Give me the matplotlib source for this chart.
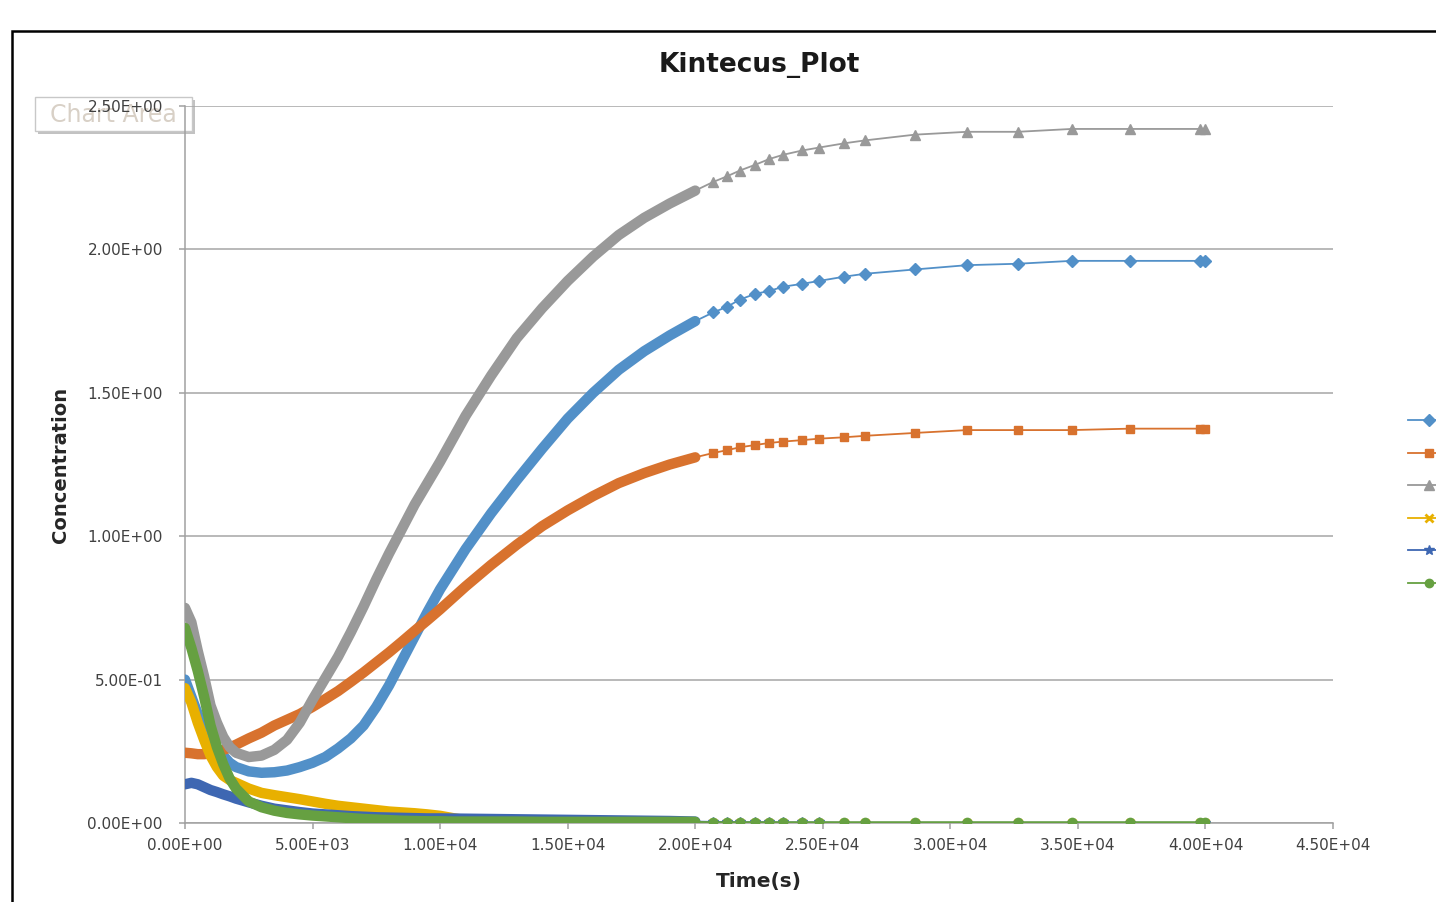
import matplotlib
matplotlib.use('Agg')
import matplotlib.pyplot as plt
from matplotlib.patches import Rectangle
from matplotlib.ticker import FuncFormatter, MultipleLocator

# time points (s): dense part where markers merge into a band, then the sparse tail
time_dense = [0, 250, 500, 750, 1000, 1250, 1500, 1750, 2000, 2500, 3000, 3500, 4000, 4500, 5000,
              5500, 6000, 6500, 7000, 7500, 8000, 8500, 9000, 9500, 10000, 10500, 11000, 12000,
              13000, 14000, 15000, 16000, 17000, 18000, 19000, 20000]
time_tail = [20700, 21250, 21750, 22350, 22900, 23450, 24200, 24850, 25850, 26650, 28600, 30650,
             32650, 34750, 37050, 39800, 40000]

s1_dense = [0.50, 0.44, 0.38, 0.33, 0.29, 0.26, 0.235, 0.21, 0.195, 0.18, 0.175, 0.177, 0.183, 0.195,
            0.21, 0.23, 0.26, 0.295, 0.34, 0.405, 0.48, 0.565, 0.65, 0.735, 0.815, 0.885, 0.955,
            1.08, 1.195, 1.305, 1.41, 1.50, 1.58, 1.645, 1.70, 1.75]
s1_tail = [1.78, 1.80, 1.825, 1.845, 1.855, 1.87, 1.88, 1.89, 1.905, 1.915, 1.93, 1.945, 1.95, 1.96,
           1.96, 1.96, 1.96]

s2_dense = [0.245, 0.243, 0.24, 0.24, 0.243, 0.247, 0.255, 0.263, 0.273, 0.295, 0.315, 0.34, 0.36,
            0.38, 0.405, 0.432, 0.46, 0.492, 0.525, 0.56, 0.595, 0.632, 0.67, 0.707, 0.745, 0.785,
            0.825, 0.90, 0.97, 1.035, 1.09, 1.14, 1.185, 1.22, 1.25, 1.275]
s2_tail = [1.29, 1.30, 1.31, 1.318, 1.325, 1.33, 1.335, 1.34, 1.345, 1.35, 1.36, 1.37, 1.37, 1.37,
           1.375, 1.375, 1.375]

s3_dense = [0.75, 0.70, 0.60, 0.51, 0.41, 0.35, 0.30, 0.265, 0.245, 0.23, 0.235, 0.255, 0.29, 0.35,
            0.43, 0.505, 0.58, 0.665, 0.755, 0.85, 0.94, 1.025, 1.11, 1.185, 1.26, 1.34, 1.42, 1.56,
            1.69, 1.795, 1.89, 1.975, 2.05, 2.11, 2.16, 2.205]
s3_tail = [2.235, 2.255, 2.275, 2.295, 2.315, 2.33, 2.345, 2.355, 2.37, 2.38, 2.40, 2.41, 2.41, 2.42,
           2.42, 2.42, 2.42]

s4_dense = [0.47, 0.42, 0.35, 0.29, 0.235, 0.195, 0.165, 0.15, 0.14, 0.12, 0.105, 0.097, 0.09, 0.083,
            0.075, 0.067, 0.06, 0.055, 0.05, 0.045, 0.04, 0.037, 0.034, 0.03, 0.025, 0.017, 0.01,
            0.002, 0.001, 0.001, 0.001, 0.001, 0.001, 0.001, 0.001, 0.001]
s4_tail = [0.001] * 17

s5_dense = [0.135, 0.14, 0.135, 0.125, 0.115, 0.108, 0.10, 0.093, 0.085, 0.072, 0.06, 0.05, 0.044,
            0.038, 0.033, 0.03, 0.027, 0.024, 0.022, 0.02, 0.019, 0.018, 0.017, 0.016, 0.016, 0.0155,
            0.015, 0.014, 0.013, 0.012, 0.011, 0.01, 0.009, 0.008, 0.007, 0.005]
s5_tail = [0.004, 0.004, 0.003, 0.003, 0.003, 0.002, 0.002, 0.002, 0.001, 0.001, 0.001, 0.001,
           0.001, 0.001, 0.001, 0.001, 0.001]

s6_dense = [0.68, 0.61, 0.53, 0.44, 0.34, 0.265, 0.205, 0.155, 0.12, 0.075, 0.055, 0.043, 0.035,
            0.03, 0.026, 0.023, 0.02, 0.017, 0.014, 0.012, 0.01, 0.008, 0.007, 0.006, 0.006, 0.005,
            0.005, 0.005, 0.005, 0.004, 0.004, 0.004, 0.004, 0.004, 0.004, 0.004]
s6_tail = [0.003] * 17

series_names = ['Species 1', 'Species 2', 'Species 3', 'Species 4', 'Species 5', 'Species 6']
colors = ['#5290C8', '#D8722E', '#999999', '#E8B000', '#3E67B2', '#66A041']
markers = ['D', 's', '^', 'x', '*', 'o']
dense = [s1_dense, s2_dense, s3_dense, s4_dense, s5_dense, s6_dense]
tail = [s1_tail, s2_tail, s3_tail, s4_tail, s5_tail, s6_tail]

fig = plt.figure(figsize=(14.36, 9.02), dpi=100)
W, H = 1436, 902

# outer chart border (cut off at right and bottom)
fig.patches.append(Rectangle((12 / W, -0.1), 1.2, 1 - 31 / H + 0.1, transform=fig.transFigure,
                             fill=False, ec='black', lw=1.8, zorder=0))

# "Chart Area" tooltip
fig.patches.append(Rectangle((38 / W, 1 - 134 / H), 157 / W, 34 / H, transform=fig.transFigure,
                             fc='#9A9A9A', ec='none', alpha=0.6, zorder=0))
fig.patches.append(Rectangle((35 / W, 1 - 131 / H), 157 / W, 34 / H, transform=fig.transFigure,
                             fc='white', ec='#C8C8C8', lw=1.0, zorder=0.1))
fig.text(113 / W, 1 - 115 / H, 'Chart Area', ha='center', va='center', fontsize=17,
         color='#D8D0C6', zorder=0.2)

ax = fig.add_axes([185 / W, 1 - 823 / H, 1148 / W, 717 / H])
ax.set_zorder(1)
ax.patch.set_alpha(0)

for i in range(6):
    t_all = time_dense + time_tail
    v_all = dense[i] + tail[i]
    n = len(time_dense)
    ax.plot(time_dense, dense[i], color=colors[i], lw=7.5, solid_capstyle='round',
            solid_joinstyle='round', zorder=3 + i)
    ms = 7 if markers[i] in ('^', '*') else 6
    mew = 2 if markers[i] == 'x' else 1
    ax.plot(t_all[n - 1:], v_all[n - 1:], color=colors[i], lw=1.3, marker=markers[i], ms=ms,
            mew=mew, markevery=list(range(1, len(time_tail) + 1)), zorder=3 + i,
            label=series_names[i])

ax.set_xlim(0, 45000)
ax.set_ylim(0, 2.5)
ax.xaxis.set_major_locator(MultipleLocator(5000))
ax.set_yticks([0, 0.5, 1.0, 1.5, 2.0, 2.5])
fmt = FuncFormatter(lambda v, p: f'{v:.2E}')
ax.xaxis.set_major_formatter(fmt)
ax.yaxis.set_major_formatter(fmt)

ax.grid(axis='y', color='#A6A6A6', lw=1.1, zorder=1)
ax.set_axisbelow(True)
for side in ['top', 'right']:
    ax.spines[side].set_visible(False)
for side in ['left', 'bottom']:
    ax.spines[side].set_color('#A0A0A0')
    ax.spines[side].set_linewidth(1.1)
ax.tick_params(axis='both', direction='out', length=4, width=1.1, color='#A0A0A0',
               labelsize=11, labelcolor='#404040')
ax.tick_params(axis='y', pad=12)
ax.tick_params(axis='x', pad=7)

ax.set_xlabel('Time(s)', fontsize=14.5, fontweight='bold', color='#262626')
ax.xaxis.set_label_coords(0.5, -0.068)
ax.set_ylabel('Concentration', fontsize=14, fontweight='bold', color='#262626')
ax.yaxis.set_label_coords(-0.1, 0.5)

fig.text(759 / W, 1 - 65 / H, 'Kintecus_Plot', ha='center', va='center', fontsize=19,
         fontweight='bold', color='#1A1A1A')

handles, labels = ax.get_legend_handles_labels()
fig.legend(handles, labels, loc='upper left', bbox_to_anchor=(1408 / W, 1 - 414 / H),
           frameon=False, fontsize=10, handlelength=3.0, labelspacing=1.33, borderpad=0,
           borderaxespad=0, handletextpad=1.2)

fig.savefig('out.png', dpi=100)
